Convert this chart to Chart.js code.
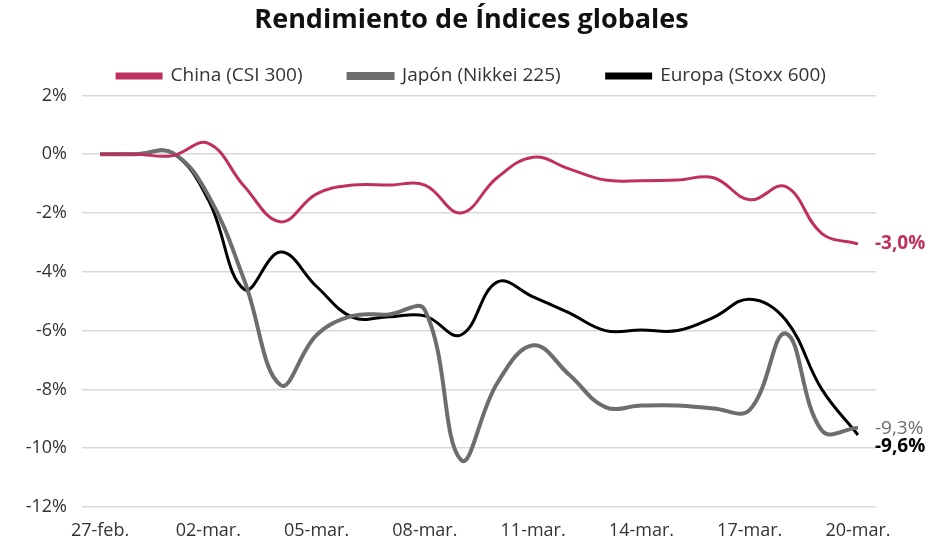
<!DOCTYPE html>
<html>
<head>
<meta charset="utf-8">
<script src="https://cdn.jsdelivr.net/npm/chart.js@4.4.0/dist/chart.umd.min.js"></script>
<style>
  body { margin: 0; background: #fff; }
  #wrap { width: 943px; height: 548px; }
</style>
</head>
<body>
<div id="wrap"><canvas id="myChart"></canvas></div>
<script>
// fechas diarias 27-feb .. 20-mar
const fechas = ["27-feb.","28-feb.","01-mar.","02-mar.","03-mar.","04-mar.","05-mar.","06-mar.","07-mar.","08-mar.","09-mar.","10-mar.","11-mar.","12-mar.","13-mar.","14-mar.","15-mar.","16-mar.","17-mar.","18-mar.","19-mar.","20-mar."];
const china  = [0, 0, -0.05, 0.37, -1.1, -2.3, -1.35, -1.05, -1.05, -1.05, -2.0, -0.8, -0.1, -0.5, -0.88, -0.9, -0.88, -0.8, -1.55, -1.1, -2.7, -3.05];
const japon  = [0, 0, 0.05, -1.4, -4.3, -7.85, -6.15, -5.5, -5.45, -5.3, -10.4, -7.8, -6.5, -7.5, -8.6, -8.55, -8.55, -8.65, -8.7, -6.1, -9.4, -9.3];
const europa = [0, 0, 0.05, -1.55, -4.6, -3.33, -4.5, -5.55, -5.53, -5.5, -6.15, -4.35, -4.85, -5.4, -6.0, -5.98, -6.0, -5.55, -4.93, -5.64, -8.0, -9.55];
const finales = ["-3,0%", "-9,3%", "-9,6%"];

const rosa = "#c0305e", gris = "#6d6d70", negro = "#000000";

const endLabels = {
  id: "endLabels",
  afterDatasetsDraw(chart) {
    const ctx = chart.ctx;
    const sets = [
      {i: 0, txt: finales[0], color: rosa, bold: true, dy: 0},
      {i: 1, txt: finales[1], color: gris, bold: false, dy: 1},
      {i: 2, txt: finales[2], color: negro, bold: true, dy: 12}
    ];
    ctx.save();
    sets.forEach(s => {
      const pts = chart.getDatasetMeta(s.i).data;
      const p = pts[pts.length - 1];
      ctx.font = (s.bold ? "bold " : "") + "19px 'Open Sans'";
      ctx.fillStyle = s.color;
      ctx.textBaseline = "middle";
      ctx.fillText(s.txt, p.x + 17, p.y + s.dy);
    });
    ctx.restore();
  }
};

new Chart("myChart", {
  type: "line",
  data: {
    labels: fechas,
    datasets: [
      {label: "China (CSI 300)", data: china, borderColor: rosa, backgroundColor: rosa, borderWidth: 3, tension: 0.4, pointRadius: 0},
      {label: "Japón (Nikkei 225)", data: japon, borderColor: gris, backgroundColor: gris, borderWidth: 4, tension: 0.4, pointRadius: 0},
      {label: "Europa (Stoxx 600)", data: europa, borderColor: negro, backgroundColor: negro, borderWidth: 3, tension: 0.4, pointRadius: 0}
    ]
  },
  options: {
    responsive: true,
    maintainAspectRatio: false,
    animation: false,
    layout: {padding: {left: 14, right: 14, top: 4, bottom: 0}},
    plugins: {
      title: {
        display: true,
        text: "Rendimiento de Índices globales",
        color: "#111",
        font: {family: "'Open Sans'", size: 27, weight: "bold"},
        padding: {top: 0, bottom: -16}
      },
      legend: {
        labels: {
          boxWidth: 44, boxHeight: 4,
          color: "#333",
          font: {family: "'Open Sans'", size: 19},
          padding: 46
        }
      },
      tooltip: {enabled: false}
    },
    scales: {
      x: {
        offset: true,
        grid: {display: false},
        border: {display: false},
        ticks: {
          color: "#333", maxRotation: 0, autoSkip: false, padding: 5,
          font: {family: "'Open Sans'", size: 18},
          callback: function(v, i) { return i % 3 === 0 ? fechas[i] : ""; }
        },
        afterFit: function(s) { s.height = 41; }
      },
      y: {
        min: -12, max: 2,
        ticks: {
          stepSize: 2, color: "#333", padding: 15,
          font: {family: "'Open Sans'", size: 18},
          callback: v => v + "%"
        },
        grid: {color: "#d9d9d9", lineWidth: 1.5, drawTicks: false},
        border: {display: false},
        afterFit: function(s) { s.width = 68; }
      },
      yDer: {
        position: "right",
        min: -12, max: 2,
        grid: {display: false},
        ticks: {display: false},
        border: {display: false},
        afterFit: function(s) { s.width = 53; }
      }
    }
  },
  plugins: [endLabels]
});
</script>
</body>
</html>
